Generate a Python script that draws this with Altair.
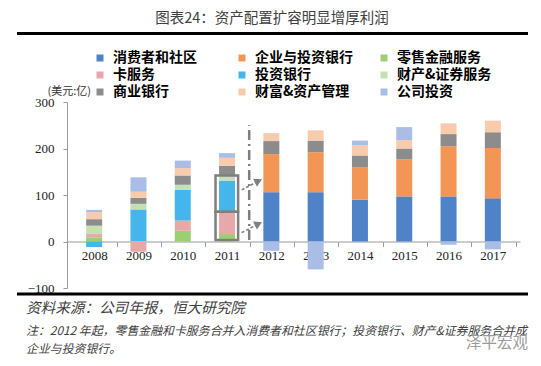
import altair as alt
import pandas as pd

# ---------------- data ----------------
years = [2008, 2009, 2010, 2011, 2012, 2013, 2014, 2015, 2016, 2017]
series = ["消费者和社区", "企业与投资银行", "零售金融服务", "卡服务", "投资银行",
          "财产&证券服务", "商业银行", "财富&资产管理", "公司投资"]
colors = ["#4f82c6", "#f29555", "#9ccf72", "#e6a8a8", "#45b5ec",
          "#c5e0b3", "#8c8c8c", "#f8cbad", "#a9bde6"]

ccb = [None, None, None, None, 106, 106, 90, 97, 97, 93]
cib = [None, None, None, None, 82, 86, 70, 80, 108, 108]
rfs = [9, 1, 23, 16, None, None, None, None, None, None]
card = [7, -22, 22, 50, None, None, None, None, None, None]
ib = [-12, 68, 66, 65, None, None, None, None, None, None]
tss = [18, 12, 11, 11, None, None, None, None, None, None]
cb = [14, 13, 20, 21, 28, 25, 25, 23, 26, 34]
am = [15, 13, 16, 17, 17, 22, 22, 18, 23, 25]
corp = [5, 31, 16, 10, -20, -60, 10, 28, -7, -17]

y_ticks = [-100, 0, 100, 200, 300]

# annotation (data units)
box_x = [2010.74, 2011.25]
box_y0 = [3, 64]
box_y1 = [64, 142]
arrow_x0 = [2011.33, 2011.33]
arrow_x1 = [2011.71, 2011.71]
arrow_y0 = [111, 19]
arrow_y1 = [130, 38]
divider_x = [2011.5]
divider_y = [3, 250]

# ---------------- build tables ----------------
all_vals = [ccb, cib, rfs, card, ib, tss, cb, am, corp]
rows = []
for si, (name, vals) in enumerate(zip(series, all_vals)):
    for yr, v in zip(years, vals):
        if v is not None:
            rows.append({"year": yr, "value": v, "series": name, "order": si})
df = pd.DataFrame(rows)

W, H = 453, 186
band = W / len(years)
xscale = alt.Scale(domain=[2007.5, 2017.5], nice=False, zero=False)
yscale = alt.Scale(domain=[-100, 300], nice=False, zero=False)
zero_off = H * (0 - (-100)) / 400.0
serif = "Liberation Serif"
cjk = "Noto Sans CJK SC"

xaxis = alt.Axis(values=years, format="d", title=None, grid=False,
                 tickOffset=band / 2, labelOffset=-band / 2,
                 offset=-zero_off, tickSize=5, labelPadding=3,
                 domainColor="#9a9a9a", tickColor="#9a9a9a",
                 labelFont=serif, labelFontSize=13, labelColor="#222222",
                 labelOverlap=False, labelFlush=False)
yaxis = alt.Axis(values=y_ticks, title=None, grid=False,
                 tickSize=4, labelPadding=9,
                 domainColor="#9a9a9a", tickColor="#9a9a9a",
                 labelFont=serif, labelFontSize=13, labelColor="#222222")

bars = alt.Chart(df).mark_bar(size=16).encode(
    x=alt.X("year:Q", scale=xscale, axis=xaxis),
    y=alt.Y("value:Q", stack="zero", scale=yscale, axis=yaxis),
    color=alt.Color("series:N", scale=alt.Scale(domain=series, range=colors),
                    legend=alt.Legend(title=None, orient="none", legendX=26, legendY=-51,
                                      direction="horizontal",
                                      columns=3, gridAlign="all", columnPadding=24,
                                      rowPadding=3, symbolType="square", symbolSize=49,
                                      symbolStrokeWidth=0, labelOffset=6,
                                      labelFont=cjk, labelFontWeight="bold",
                                      labelFontSize=14, labelColor="#000000",
                                      padding=0, labelLimit=200)),
    order=alt.Order("order:Q", sort="ascending"),
)

div_df = pd.DataFrame({"x": divider_x, "y0": [divider_y[0]], "y1": [divider_y[1]]})
divider = alt.Chart(div_df).mark_rule(color="#808080", strokeWidth=2.5,
                                      strokeDash=[10, 4, 2, 4]).encode(
    x=alt.X("x:Q", scale=xscale, axis=xaxis),
    y=alt.Y("y0:Q", scale=yscale, axis=yaxis),
    y2="y1:Q",
)

box_df = pd.DataFrame({"x0": [box_x[0]] * 2, "x1": [box_x[1]] * 2,
                       "y0": box_y0, "y1": box_y1})
boxes = alt.Chart(box_df).mark_rect(fillOpacity=0, stroke="#7f7f7f", strokeWidth=2.5).encode(
    x=alt.X("x0:Q", scale=xscale, axis=xaxis), x2="x1:Q",
    y=alt.Y("y0:Q", scale=yscale, axis=yaxis), y2="y1:Q",
)

arr_df = pd.DataFrame({"x0": arrow_x0, "x1": arrow_x1, "y0": arrow_y0, "y1": arrow_y1})
arrows = alt.Chart(arr_df).mark_rule(color="#808080", strokeWidth=1.6,
                                     strokeDash=[3, 2]).encode(
    x=alt.X("x0:Q", scale=xscale, axis=xaxis), x2="x1:Q",
    y=alt.Y("y0:Q", scale=yscale, axis=yaxis), y2="y1:Q",
)
heads = alt.Chart(arr_df).mark_point(shape="triangle-up", filled=True, size=80, angle=64,
                                     color="#808080", opacity=1).encode(
    x=alt.X("x1:Q", scale=xscale, axis=xaxis),
    y=alt.Y("y1:Q", scale=yscale, axis=yaxis),
)

dummy = pd.DataFrame({"k": [0]})


def txt(s, x, y, **kw):
    return alt.Chart(dummy).mark_text(text=s, baseline="middle", **kw).encode(
        x=alt.value(x), y=alt.value(y))


def hline(x0, x1, y, w):
    return alt.Chart(dummy).mark_rule(color="#000000", strokeWidth=w).encode(
        x=alt.value(x0), x2=alt.value(x1), y=alt.value(y))


title = txt("图表24：资产配置扩容明显增厚利润", 205, -83, align="center",
            font=cjk, fontSize=14.5, color="#404040")
top_line = hline(-50, 461, -68.5, 3)
bottom_line = hline(-50, 461, 192, 3)
unit = txt("(美元:亿)", 24, -10, align="right", font=cjk, fontSize=11, color="#333333")
source = txt("资料来源：公司年报，恒大研究院", -41, 206.5, align="left", font=cjk,
             fontSize=14.6, fontStyle="italic", color="#404040")
note1 = txt("注：2012 年起，零售金融和卡服务合并入消费者和社区银行；投资银行、财产&证券服务合并成",
            -41, 229, align="left", font=cjk, fontSize=11.9, fontStyle="italic", color="#404040")
note2 = txt("企业与投资银行。", -41, 247, align="left", font=cjk, fontSize=11.9,
            fontStyle="italic", color="#404040")
mark = txt("泽平宏观", 430, 241, align="center", font=cjk, fontSize=15.5, color="#9a9a9a")

chart = alt.layer(
    bars, divider, boxes, arrows, heads,
    title, top_line, bottom_line, unit, source, note1, note2, mark,
).properties(
    width=W, height=H,
    padding={"left": 59, "top": 94, "right": 13, "bottom": 70},
    autosize=alt.AutoSizeParams(type="none"),
    background="#ffffff",
).configure_view(strokeWidth=0)

chart.save("out.html", embed_options={"renderer": "svg", "actions": False})
